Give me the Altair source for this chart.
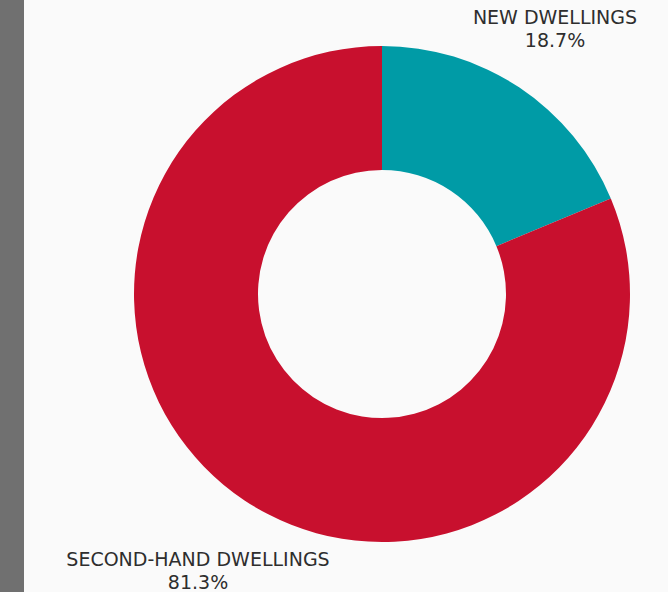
import altair as alt
import pandas as pd

categories = ["NEW DWELLINGS", "SECOND-HAND DWELLINGS"]
shares = [18.7, 81.3]
colors = ["#009ba6", "#c8102e"]

df = pd.DataFrame({"category": categories, "share": shares, "order": [0, 1]})

W, H = 668, 592
CX, CY = 382, 294

side = alt.Chart(pd.DataFrame({"a": [0]})).mark_rect(color="#707070").encode(
    x=alt.value(0), x2=alt.value(24), y=alt.value(0), y2=alt.value(H)
)

donut = alt.Chart(df).mark_arc(outerRadius=248, innerRadius=124, stroke=None).encode(
    theta=alt.Theta("share:Q", stack=True),
    color=alt.Color("category:N", scale=alt.Scale(domain=categories, range=colors), legend=None),
    order=alt.Order("order:Q"),
    x=alt.value(CX),
    y=alt.value(CY),
)

def label(i, x, y):
    d = pd.DataFrame({"t": [f"{categories[i]}\n{shares[i]}%"]})
    return alt.Chart(d).mark_text(
        font="DejaVu Sans", fontSize=19, fontWeight="normal", color="#2e2e2e",
        align="center", baseline="alphabetic", lineBreak="\n", lineHeight=23,
    ).encode(text="t:N", x=alt.value(x), y=alt.value(y))

chart = alt.layer(
    side, donut, label(0, 555, 24), label(1, 198, 566)
).properties(
    width=W, height=H, background="#fafafa", padding=0, autosize="none"
).configure_view(stroke=None)

chart.save("out.html", embed_options={"renderer": "svg", "actions": False})
